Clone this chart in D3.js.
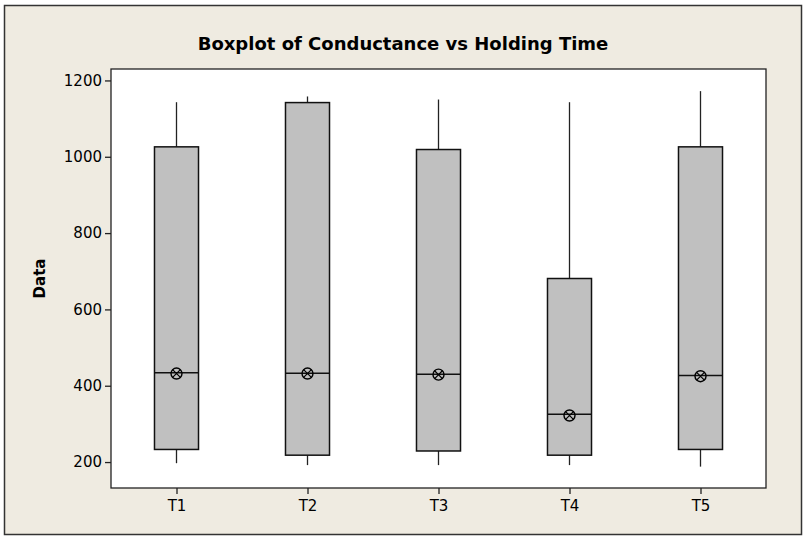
<!DOCTYPE html>
<html lang="en">
<head>
<meta charset="UTF-8">
<title>Boxplot of Conductance vs Holding Time</title>
<script src="https://d3js.org/d3.v7.min.js"></script>
<style>
  body { margin: 0; background: #fff; }
  text { font-family: "DejaVu Sans", sans-serif; fill: #000; }
</style>
</head>
<body>
<div id="chart"></div>
<script>
// values
var categories = ["T1", "T2", "T3", "T4", "T5"];
var whiskerLow  = [197, 192, 192, 192, 188];
var q1          = [233, 218, 229, 218, 233];
var median      = [434, 433, 430, 325, 427];
var q3          = [1026, 1142, 1019, 681, 1026];
var whiskerHigh = [1143, 1158, 1150, 1143, 1172];
var means       = [432, 432, 429, 322, 425];
var yTicks      = [200, 400, 600, 800, 1000, 1200];

var W = 804, H = 537;
var plot = {left: 111, top: 69, right: 766, bottom: 488};

var svg = d3.select("#chart").append("svg")
    .attr("width", W)
    .attr("height", H);

// outer panel
svg.append("rect")
    .attr("x", 4.5).attr("y", 5.5)
    .attr("width", 797).attr("height", 529)
    .attr("fill", "#efebe1")
    .attr("stroke", "#333")
    .attr("stroke-width", 1.5);

svg.append("rect")
    .attr("x", plot.left).attr("y", plot.top)
    .attr("width", plot.right - plot.left)
    .attr("height", plot.bottom - plot.top)
    .attr("fill", "#fff");

var x = d3.scalePoint()
    .domain(categories)
    .range([plot.left, plot.right])
    .padding(0.5);

var y = d3.scaleLinear()
    .domain([132, 1230])
    .range([plot.bottom, plot.top]);

var boxW = x.step() * 0.336;

var data = categories.map(function(c, i) {
  return {cat: c, lo: whiskerLow[i], q1: q1[i], med: median[i], q3: q3[i], hi: whiskerHigh[i], mean: means[i]};
});

var g = svg.append("g");

// whiskers
g.selectAll(".whisk-hi").data(data).enter().append("line")
    .attr("x1", function(d) { return x(d.cat); })
    .attr("x2", function(d) { return x(d.cat); })
    .attr("y1", function(d) { return y(d.q3); })
    .attr("y2", function(d) { return y(d.hi); })
    .attr("stroke", "#222").attr("stroke-width", 1.3);

g.selectAll(".whisk-lo").data(data).enter().append("line")
    .attr("x1", function(d) { return x(d.cat); })
    .attr("x2", function(d) { return x(d.cat); })
    .attr("y1", function(d) { return y(d.q1); })
    .attr("y2", function(d) { return y(d.lo); })
    .attr("stroke", "#222").attr("stroke-width", 1.3);

// boxes
g.selectAll(".box").data(data).enter().append("rect")
    .attr("x", function(d) { return x(d.cat) - boxW / 2; })
    .attr("y", function(d) { return y(d.q3); })
    .attr("width", boxW)
    .attr("height", function(d) { return y(d.q1) - y(d.q3); })
    .attr("fill", "#c0c0c0")
    .attr("stroke", "#111")
    .attr("stroke-width", 1.5);

// medians
g.selectAll(".median").data(data).enter().append("line")
    .attr("x1", function(d) { return x(d.cat) - boxW / 2; })
    .attr("x2", function(d) { return x(d.cat) + boxW / 2; })
    .attr("y1", function(d) { return y(d.med); })
    .attr("y2", function(d) { return y(d.med); })
    .attr("stroke", "#111").attr("stroke-width", 1.5);

// mean symbols: circle with an x
var r = 5.5;
var m = g.selectAll(".mean").data(data).enter().append("g")
    .attr("transform", function(d) { return "translate(" + x(d.cat) + "," + y(d.mean) + ")"; });
m.append("circle").attr("r", r).attr("fill", "none").attr("stroke", "#000").attr("stroke-width", 1.4);
var k = r * 0.7071;
m.append("path")
    .attr("d", "M" + (-k) + "," + (-k) + "L" + k + "," + k + "M" + (-k) + "," + k + "L" + k + "," + (-k))
    .attr("stroke", "#000").attr("stroke-width", 1.2);

// frame
svg.append("rect")
    .attr("x", plot.left).attr("y", plot.top)
    .attr("width", plot.right - plot.left)
    .attr("height", plot.bottom - plot.top)
    .attr("fill", "none")
    .attr("stroke", "#222")
    .attr("stroke-width", 1.3);

// axes
var yAxis = svg.append("g")
    .attr("transform", "translate(" + plot.left + ",0)")
    .call(d3.axisLeft(y).tickValues(yTicks).tickFormat(d3.format("d")).tickSize(6).tickPadding(3));

var xAxis = svg.append("g")
    .attr("transform", "translate(0," + plot.bottom + ")")
    .call(d3.axisBottom(x).tickSize(6).tickPadding(6));

[yAxis, xAxis].forEach(function(a) {
  a.attr("font-family", null).attr("font-size", null);
  a.select(".domain").remove();
  a.selectAll(".tick line").attr("stroke", "#222").attr("stroke-width", 1.3);
  a.selectAll(".tick text")
      .style("font-size", "15px")
      .attr("fill", "#111");
});

// title
svg.append("text")
    .attr("x", 403)
    .attr("y", 50)
    .attr("text-anchor", "middle")
    .style("font-size", "18px")
    .style("font-weight", "bold")
    .text("Boxplot of Conductance vs Holding Time");

// y label
svg.append("text")
    .attr("transform", "translate(45," + ((plot.top + plot.bottom) / 2) + ") rotate(-90)")
    .attr("text-anchor", "middle")
    .style("font-size", "15px")
    .style("font-weight", "bold")
    .text("Data");
</script>
</body>
</html>
